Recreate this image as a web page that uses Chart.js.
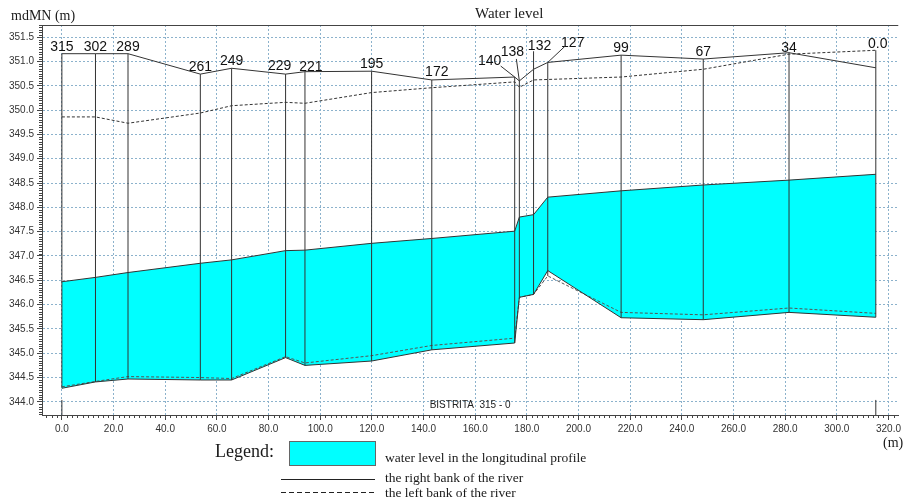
<!DOCTYPE html>
<html lang="en">
<head>
<meta charset="UTF-8">
<title>Water level</title>
<script src="https://cdn.jsdelivr.net/npm/chart.js@4"></script>
<style>
  body { margin: 0; background: #fff; }
  #wrap { position: relative; width: 904px; height: 502px; }
  #wrap canvas { position: absolute; left: 0; top: 0; }
  .txt { position: absolute; font-family: 'Liberation Serif', 'Times New Roman', serif; color: #1a1a1a; white-space: nowrap; line-height: 1; }
  .box { position: absolute; left: 289px; top: 441px; width: 85px; height: 23px; background: #00ffff; border: 1px solid #666; }
  .solid { position: absolute; left: 281px; top: 479px; width: 94px; height: 1px; background: #222; }
  .dashed { position: absolute; left: 281px; top: 492px; width: 94px; height: 1px;
            background: repeating-linear-gradient(to right, #222 0 5px, transparent 5px 8px); }
</style>
</head>
<body>
<div id="wrap">
  <canvas id="profileChart" width="904" height="502"></canvas>
  <div class="txt" style="left:11px; top:9px; font-size:14px;">mdMN (m)</div>
  <div class="txt" style="left:475px; top:6px; font-size:15px;">Water level</div>
  <div class="txt" style="left:883px; top:436px; font-size:14px;">(m)</div>
  <div class="txt" style="left:215px; top:442px; font-size:18px;">Legend:</div>
  <div class="box"></div>
  <div class="txt" style="left:385px; top:451px; font-size:13.5px;">water level in the longitudinal profile</div>
  <div class="solid"></div>
  <div class="txt" style="left:385px; top:471px; font-size:13.5px;">the right bank of the river</div>
  <div class="dashed"></div>
  <div class="txt" style="left:385px; top:486px; font-size:13.5px;">the left bank of the river</div>
</div>
<script>
// profile stations (km marks) and distance along the profile (m)
const stations = ['315', '302', '289', '261', '249', '229', '221', '195', '172', '140', '138', '132', '127', '99', '67', '34', '0.0'];
const distance = [0, 13.0, 25.6, 53.6, 65.7, 86.6, 94.1, 119.9, 143.2, 175.3, 177.1, 182.6, 188.1, 216.5, 248.3, 281.5, 315.1];

// elevations (mdMN)
const rightBank  = [351.16, 351.16, 351.16, 350.74, 350.86, 350.74, 350.79, 350.80, 350.62, 350.68, 350.60, 350.84, 350.98, 351.13, 351.05, 351.18, 350.87];
const leftBank   = [349.86, 349.86, 349.73, 349.94, 350.09, 350.16, 350.14, 350.36, 350.46, 350.58, 350.47, 350.62, 350.63, 350.68, 350.84, 351.15, 351.23];
const waterLevel = [346.47, 346.56, 346.66, 346.85, 346.92, 347.11, 347.12, 347.26, 347.36, 347.51, 347.80, 347.85, 348.21, 348.34, 348.46, 348.56, 348.68];
const bedSolid   = [344.28, 344.41, 344.47, 344.45, 344.45, 344.91, 344.75, 344.84, 345.07, 345.21, 346.15, 346.21, 346.70, 345.73, 345.69, 345.84, 345.74];
const bedDashed  = [344.31, 344.42, 344.52, 344.50, 344.48, 344.93, 344.80, 344.95, 345.16, 345.31, 346.15, 346.21, 346.59, 345.84, 345.79, 345.93, 345.82];

// section end markers (BISTRITA 315 - 0)
const sectionEnds = [0, 315.1];
const sectionMarkTop = 344.04;

const yMin = 343.73, yMax = 351.75;
const xMin = -7.7, xMax = 323.8;

const toPts = arr => distance.map((d, i) => ({ x: d, y: arr[i] }));
const topOf = i => Math.max(rightBank[i], leftBank[i]);

const verticals = [];
distance.forEach((d, i) => {
    verticals.push({ x: d, y: Math.min(bedSolid[i], bedDashed[i]) }, { x: d, y: topOf(i) }, { x: d, y: null });
});
sectionEnds.forEach(d => {
    verticals.push({ x: d, y: yMin }, { x: d, y: sectionMarkTop }, { x: d, y: null });
});

// label placement tweaks for crowded stations (pixels from top of vertical)
const labelShift = {
    5: { dx: -6, dy: -4 },
    6: { dx: 6, dy: -1 },
    8: { dx: 5, dy: -4 },
    9: { dx: -25, dy: -12, lx: -14, ly: -11 },
    10: { dx: -7, dy: -25, lx: -3, ly: -22 },
    11: { dx: 6, dy: -19, lx: 0, ly: -18 },
    12: { dx: 25, dy: -15, lx: 17, ly: -16 },
    15: { dx: 0, dy: -1 },
    16: { dx: 2, dy: -2 }
};

const stationLabels = {
    id: 'stationLabels',
    afterDatasetsDraw(chart) {
        const { ctx, scales: { x, y } } = chart;
        ctx.save();
        ctx.font = '14px "Liberation Sans", Arial, sans-serif';
        ctx.fillStyle = '#111';
        ctx.strokeStyle = '#333';
        ctx.lineWidth = 1;
        ctx.textAlign = 'center';
        ctx.textBaseline = 'alphabetic';
        stations.forEach((s, i) => {
            const px = x.getPixelForValue(distance[i]);
            const py = y.getPixelForValue(topOf(i));
            const o = labelShift[i] || { dx: 0, dy: -3 };
            ctx.fillText(s, px + o.dx, py + o.dy);
            if (o.lx !== undefined) {
                ctx.beginPath();
                ctx.moveTo(px + o.lx, py + o.ly);
                ctx.lineTo(px, py);
                ctx.stroke();
            }
        });
        ctx.restore();
    }
};

const axisExtras = {
    id: 'axisExtras',
    afterDraw(chart) {
        const { ctx, chartArea: a, scales: { x, y } } = chart;
        ctx.save();
        ctx.strokeStyle = '#444';
        ctx.lineWidth = 1;
        ctx.beginPath();
        // top frame line
        ctx.moveTo(a.left, Math.round(a.top) + 0.5);
        ctx.lineTo(a.right, Math.round(a.top) + 0.5);
        // minor ticks on y, every 0.05
        for (let k = Math.ceil(yMin / 0.05); k <= Math.floor(yMax / 0.05); k++) {
            if (k % 10 === 0) continue;
            const py = Math.round(y.getPixelForValue(k * 0.05)) + 0.5;
            ctx.moveTo(a.left - 3, py);
            ctx.lineTo(a.left, py);
        }
        // minor ticks on x, every 2 m
        for (let k = Math.ceil(xMin / 2); k <= Math.floor(xMax / 2); k++) {
            if (k % 10 === 0) continue;
            const px = Math.round(x.getPixelForValue(k * 2)) + 0.5;
            ctx.moveTo(px, a.bottom);
            ctx.lineTo(px, a.bottom + 3);
        }
        ctx.stroke();
        ctx.font = '10px "Liberation Sans", Arial, sans-serif';
        ctx.fillStyle = '#222';
        ctx.textAlign = 'center';
        ctx.textBaseline = 'middle';
        ctx.fillText('BISTRITA  315 - 0', (a.left + a.right) / 2, a.bottom - 10);
        ctx.restore();
    }
};

Chart.defaults.font.family = '"Liberation Sans", Arial, sans-serif';
Chart.defaults.font.size = 10;
Chart.defaults.color = '#333';

const gridColor = '#8cb2cc';

new Chart(document.getElementById('profileChart'), {
    type: 'line',
    data: {
        datasets: [
            { label: 'water level in the longitudinal profile', data: toPts(waterLevel), borderColor: '#333', backgroundColor: '#00ffff', borderWidth: 1, fill: '+1', order: 5 },
            { label: 'bed', data: toPts(bedSolid), borderColor: '#333', borderWidth: 1, fill: false, order: 1 },
            { label: 'bed dashed', data: toPts(bedDashed), borderColor: '#555', borderWidth: 1, borderDash: [3, 2], fill: false, order: 1 },
            { label: 'the right bank of the river', data: toPts(rightBank), borderColor: '#333', borderWidth: 1, fill: false, order: 1 },
            { label: 'the left bank of the river', data: toPts(leftBank), borderColor: '#333', borderWidth: 1, borderDash: [3, 2], fill: false, order: 1 },
            { label: 'sections', data: verticals, borderColor: '#333', borderWidth: 1, fill: false, spanGaps: false, order: 0 }
        ]
    },
    options: {
        responsive: false,
        animation: false,
        events: [],
        elements: { point: { radius: 0 }, line: { tension: 0 } },
        layout: { padding: { left: 0, top: 25, right: 2, bottom: 62 } },
        plugins: { legend: { display: false }, tooltip: { enabled: false } },
        scales: {
            x: {
                type: 'linear', min: xMin, max: xMax,
                afterFit: s => { s.height = 25; },
                ticks: { stepSize: 20, includeBounds: false, padding: 3, maxRotation: 0, callback: v => v.toFixed(1) },
                grid: { color: gridColor, tickColor: '#444', tickLength: 5 },
                border: { color: '#444', dash: [2, 2] }
            },
            y: {
                type: 'linear', min: yMin, max: yMax,
                afterFit: s => { s.width = 42; },
                ticks: { stepSize: 0.5, includeBounds: false, padding: 3, callback: v => v.toFixed(1) },
                grid: { color: gridColor, tickColor: '#444', tickLength: 5 },
                border: { color: '#444', dash: [2, 2] }
            }
        }
    },
    plugins: [stationLabels, axisExtras]
});
</script>
</body>
</html>
